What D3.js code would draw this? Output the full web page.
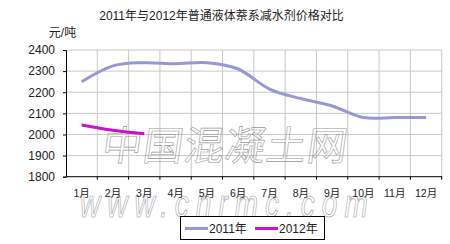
<!DOCTYPE html>
<html>
<head>
<meta charset="utf-8">
<script src="https://d3js.org/d3.v7.min.js"></script>
<style>
  body { margin: 0; background: #fff; }
  text { font-family: "Liberation Sans", Arial, "Noto Sans CJK SC", sans-serif; }
</style>
</head>
<body>
<svg id="chart"></svg>
<script>
    var W = 450, H = 244;
    var months = ["1月","2月","3月","4月","5月","6月","7月","8月","9月","10月","11月","12月"];
    var price2011 = [2250, 2325, 2340, 2335, 2340, 2310, 2215, 2170, 2135, 2080, 2080, 2080];
    var price2012 = [2045, 2020, 2003];
    var yTicks = [1800, 1900, 2000, 2100, 2200, 2300, 2400];
    var seriesNames = ["2011年", "2012年"];
    var seriesColors = ["#9797d8", "#cc11cc"];

    var plotL = 66, plotR = 441.7, plotT = 50, plotB = 176.7;

    var svg = d3.select("#chart").attr("width", W).attr("height", H);

    var x = d3.scaleBand().domain(months).range([plotL, plotR]);
    var y = d3.scaleLinear().domain([1800, 2400]).range([plotB, plotT]);

    // title and unit
    svg.append("text").attr("x", 221.5).attr("y", 19.5)
        .attr("text-anchor", "middle").attr("font-size", 12).attr("fill", "#222")
        .text("2011年与2012年普通液体萘系减水剂价格对比");
    svg.append("text").attr("x", 62.5).attr("y", 37)
        .attr("text-anchor", "middle").attr("font-size", 12).attr("fill", "#222")
        .text("元/吨");

    // grid
    var grid = svg.append("g");
    grid.selectAll(".hg").data(yTicks.slice(1)).enter().append("line")
        .attr("x1", plotL).attr("x2", plotR)
        .attr("y1", function(d) { return y(d); }).attr("y2", function(d) { return y(d); })
        .attr("stroke", "#c8c8c8").attr("stroke-width", 1);
    grid.selectAll(".vg").data(months).enter().append("line")
        .attr("x1", function(d) { return x(d) + x.bandwidth(); })
        .attr("x2", function(d) { return x(d) + x.bandwidth(); })
        .attr("y1", plotT).attr("y2", plotB)
        .attr("stroke", "#c8c8c8").attr("stroke-width", 1);

    // watermark
    svg.append("text").attr("x", 103).attr("y", 160)
        .attr("font-size", 40).attr("letter-spacing", 1)
        .attr("fill", "none").attr("stroke", "#999").attr("stroke-width", 0.6)
        .attr("transform", "translate(20,0) skewX(-8)")
        .text("中国混凝土网");
    svg.append("text").attr("x", 0).attr("y", 0)
        .attr("font-size", 28).attr("font-style", "italic").attr("letter-spacing", 7)
        .attr("fill", "none").attr("stroke", "#999").attr("stroke-width", 0.5)
        .attr("transform", "translate(80,217) scale(1,1.4)")
        .text("www.cnrmc.com");

    // axes
    var yAxis = svg.append("g").attr("transform", "translate(" + plotL + ",0)")
        .call(d3.axisLeft(y).tickValues(yTicks).tickSize(3).tickPadding(8).tickFormat(d3.format("d")));
    yAxis.select(".domain").attr("stroke", "#000");
    yAxis.selectAll("text").attr("font-size", 12).attr("fill", "#222")
        .attr("font-family", "Liberation Sans, Arial, sans-serif");

    var xAxis = svg.append("g").attr("transform", "translate(0," + plotB + ")")
        .call(d3.axisBottom(x).tickSize(0).tickPadding(13));
    xAxis.select(".domain").remove();
    xAxis.selectAll("text").attr("font-size", 10.5).attr("fill", "#222");
    svg.append("line").attr("x1", plotL).attr("x2", plotR + 0.5).attr("y1", plotB).attr("y2", plotB)
        .attr("stroke", "#000");
    svg.selectAll(".xt").data(months).enter().append("line")
        .attr("x1", function(d) { return x(d) + x.bandwidth(); })
        .attr("x2", function(d) { return x(d) + x.bandwidth(); })
        .attr("y1", plotB).attr("y2", plotB + 3)
        .attr("stroke", "#000");

    // lines
    var line = d3.line()
        .x(function(d, i) { return x(months[i]) + x.bandwidth() / 2; })
        .y(function(d) { return y(d); })
        .curve(d3.curveCatmullRom.alpha(0));
    [price2011, price2012].forEach(function(s, k) {
        svg.append("path").datum(s).attr("d", line)
            .attr("fill", "none").attr("stroke", seriesColors[k])
            .attr("stroke-width", 3).attr("stroke-linejoin", "round");
    });

    // legend
    var lg = svg.append("g");
    lg.append("rect").attr("x", 180.5).attr("y", 216.5).attr("width", 144).attr("height", 23)
        .attr("fill", "#fff").attr("stroke", "#000").attr("stroke-width", 1);
    seriesNames.forEach(function(n, k) {
        var lx = 185 + k * 70;
        lg.append("line").attr("x1", lx).attr("x2", lx + 23).attr("y1", 228.5).attr("y2", 228.5)
            .attr("stroke", seriesColors[k]).attr("stroke-width", 3);
        lg.append("text").attr("x", lx + 24).attr("y", 233)
            .attr("font-size", 12).attr("fill", "#222").text(n);
    });
</script>
</body>
</html>
